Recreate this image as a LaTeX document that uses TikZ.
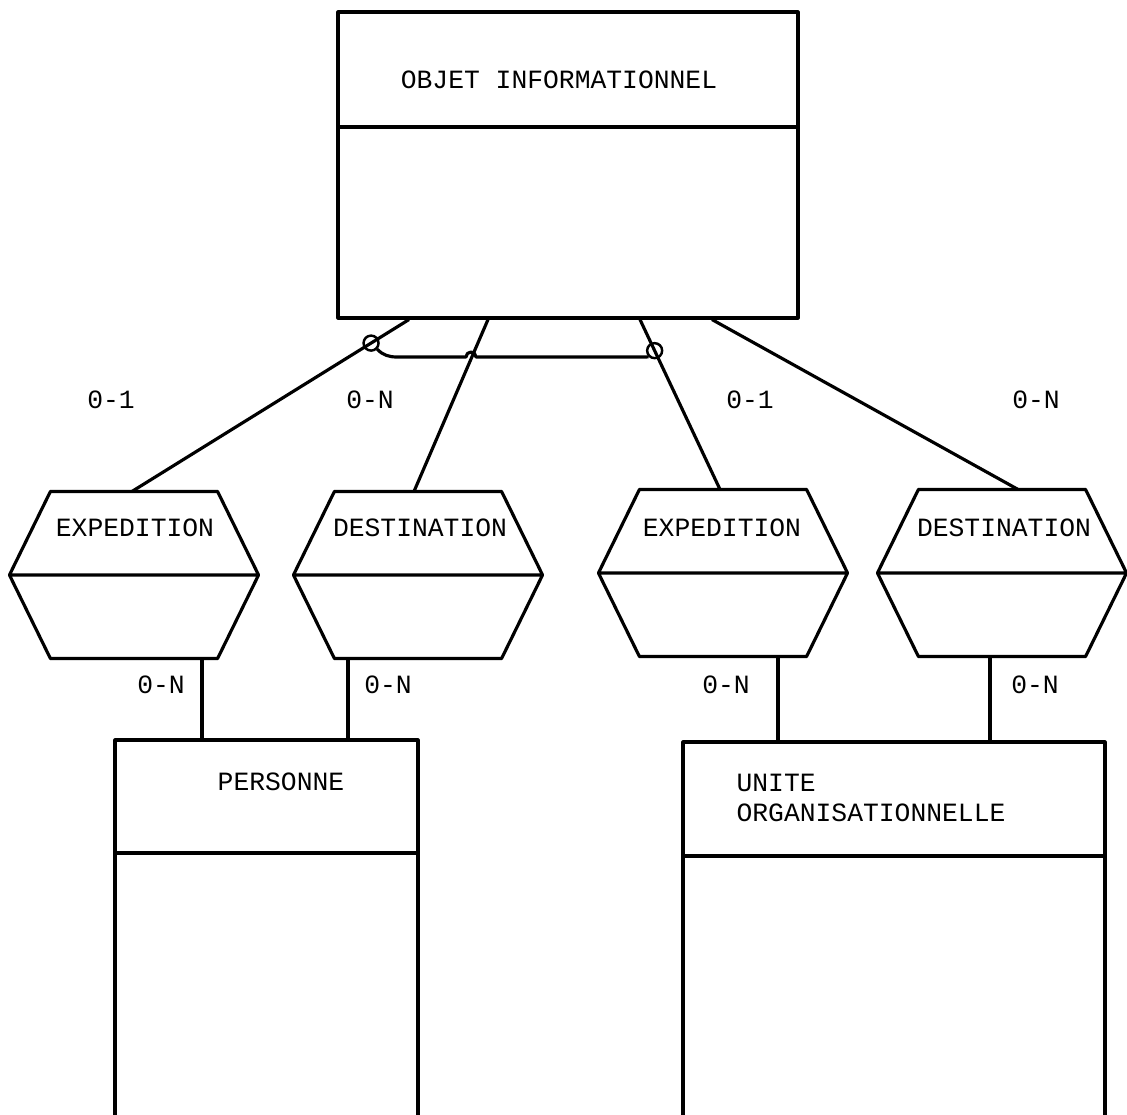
\documentclass[tikz,border=0pt]{standalone}
\usepackage{fontspec}
\setmonofont{Liberation Mono}

\begin{document}
\begin{tikzpicture}[
    x=0.02cm, y=-0.02cm,
    line width=1.8pt,
    line join=round,
    entity/.style={
        rectangle,
        draw=black,
        inner sep=0pt,
      },
    hexa/.style={
        rectangle,
        minimum width=4.92cm,
        minimum height=3.28cm,
        inner sep=0pt,
      },
    ring/.style={circle, draw=black, line width=1.4pt, minimum size=0.3cm, inner sep=0pt},
    txt/.style={font=\ttfamily\fontsize{15}{17}\selectfont, inner sep=0pt},
  ]
  \useasboundingbox (0,0) rectangle (1127,1115);
  \clip (0,0) rectangle (1127,1115);

  % entites
  \node[entity, minimum width=9.2cm, minimum height=6.12cm] (objet) at (568,165) {};
  \node[entity, minimum width=6.06cm, minimum height=7.7cm] (pers) at (266.5,932.5) {};
  \node[entity, minimum width=8.44cm, minimum height=7.66cm] (unite) at (894,933.5) {};
  \draw (objet.west |- 0,127) -- (objet.east |- 0,127);
  \draw (pers.west |- 0,853) -- (pers.east |- 0,853);
  \draw (unite.west |- 0,856) -- (unite.east |- 0,856);

  \node[txt] (objetT) at (559,80) {OBJET INFORMATIONNEL};
  \node[txt] (persT) at (281,782) {PERSONNE};
  \node[txt, anchor=west, align=left] (uniteT) at (735,798) {UNITE\\ORGANISATIONNELLE};

  % associations
  \node[hexa] (exp1) at (134,575) {};
  \node[hexa] (dest1) at (418,575) {};
  \node[hexa] (exp2) at (723,573) {};
  \node[hexa] (dest2) at (1002,573) {};
  \foreach \h in {exp1,dest1,exp2,dest2}
    \draw (\h.west) -- ([xshift=.82cm]\h.north west) -- ([xshift=-.82cm]\h.north east)
      -- (\h.east) -- ([xshift=-.82cm]\h.south east) -- ([xshift=.82cm]\h.south west)
      -- cycle (\h.west) -- (\h.east);

  \node[txt] (exp1T) at (135,528) {EXPEDITION};
  \node[txt] (dest1T) at (420,528) {DESTINATION};
  \node[txt] (exp2T) at (722,528) {EXPEDITION};
  \node[txt] (dest2T) at (1004,528) {DESTINATION};

  % liens
  \draw (409,0 |- objet.south) -- node[ring, pos=.137] (c1) {} (132,0 |- exp1.north);
  \draw (488,0 |- objet.south) -- (414,0 |- dest1.north);
  \draw (640,0 |- objet.south) -- node[ring, pos=.183] (c3) {} (720,0 |- exp2.north);
  \draw (712,0 |- objet.south) -- (1018,0 |- dest2.north);

  \draw (202,0 |- exp1.south) -- (202,0 |- pers.north);
  \draw (348,0 |- dest1.south) -- (348,0 |- pers.north);
  \draw (778,0 |- exp2.south) -- (778,0 |- unite.north);
  \draw (990,0 |- dest2.south) -- (990,0 |- unite.north);

  % contrainte d'exclusion
  \draw (c1.south east) to[out=-45, in=180] (397,357) -- (466,357)
    arc[start angle=180, end angle=0, radius=0.1cm] -- (646,357)
    to[out=0, in=-135] (c3.south west);

  % cardinalites
  \node[txt] (k1) at (111,400) {0-1};
  \node[txt] (k2) at (370,400) {0-N};
  \node[txt] (k3) at (750,400) {0-1};
  \node[txt] (k4) at (1036,400) {0-N};
  \node[txt] (k5) at (161,685) {0-N};
  \node[txt] (k6) at (388,685) {0-N};
  \node[txt] (k7) at (726,685) {0-N};
  \node[txt] (k8) at (1035,685) {0-N};
\end{tikzpicture}
\end{document}
